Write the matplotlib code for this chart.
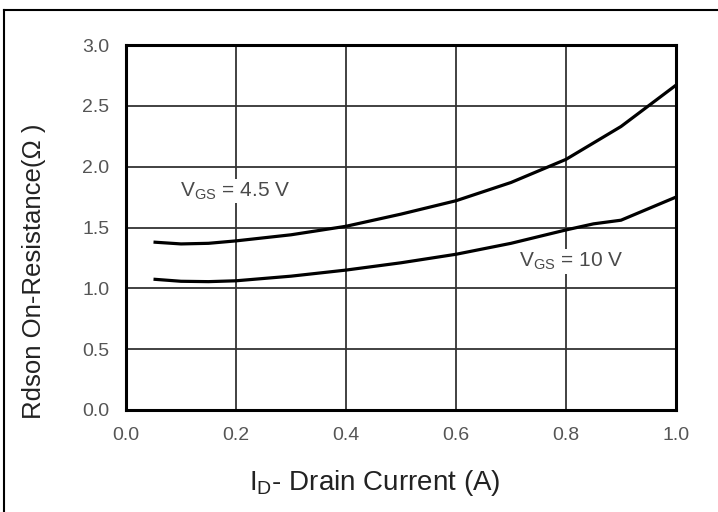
import matplotlib
matplotlib.use("Agg")
import matplotlib.pyplot as plt
from matplotlib.lines import Line2D
import numpy as np

plt.rcParams['font.family'] = ['Liberation Sans', 'DejaVu Sans']

# Data
current_a = [0.05, 0.10, 0.15, 0.20, 0.30, 0.40, 0.50, 0.60, 0.70, 0.80, 0.90, 1.00]
rdson_vgs45 = [1.38, 1.365, 1.37, 1.39, 1.44, 1.51, 1.61, 1.72, 1.87, 2.06, 2.33, 2.67]

current_b = [0.05, 0.10, 0.15, 0.20, 0.30, 0.40, 0.50, 0.60, 0.70, 0.80, 0.85, 0.90, 1.00]
rdson_vgs10 = [1.075, 1.058, 1.055, 1.062, 1.10, 1.15, 1.21, 1.28, 1.37, 1.48, 1.53, 1.56, 1.75]

x_ticks = [0.0, 0.2, 0.4, 0.6, 0.8, 1.0]
y_ticks = [0.0, 0.5, 1.0, 1.5, 2.0, 2.5, 3.0]

fig = plt.figure(figsize=(7.18, 5.12), dpi=100)
ax = fig.add_axes([126/718, 1-410/512, 550/718, 365/512])

ax.plot(current_a, rdson_vgs45, color='black', lw=2.3, solid_capstyle='butt')
ax.plot(current_b, rdson_vgs10, color='black', lw=2.3, solid_capstyle='butt')

ax.set_xlim(0, 1.0)
ax.set_ylim(0, 3.0)
ax.set_xticks(x_ticks)
ax.set_yticks(y_ticks)
ax.set_xticklabels([f"{v:.1f}" for v in x_ticks])
ax.set_yticklabels([f"{v:.1f}" for v in y_ticks])
ax.grid(True, color='#333333', lw=1.3)
ax.set_axisbelow(True)
ax.tick_params(length=0, labelsize=14, labelcolor='#555555')
ax.tick_params(axis='x', pad=12)
ax.tick_params(axis='y', pad=12)
for s in ax.spines.values():
    s.set_linewidth(2.2)
    s.set_color('black')

ax.text(0.098, 1.80, r"V$_{\mathregular{GS}}$ = 4.5 V", fontsize=15, color='#4a4a4a',
        va='center', ha='left', bbox=dict(facecolor='white', edgecolor='none', pad=1))
ax.text(0.715, 1.22, r"V$_{\mathregular{GS}}$ = 10 V", fontsize=15, color='#4a4a4a',
        va='center', ha='left', bbox=dict(facecolor='white', edgecolor='none', pad=1))

ax.set_xlabel(r"I$_{\mathregular{D}}$- Drain Current (A)", fontsize=20, color='#222222')
ax.xaxis.set_label_coords(0.453, -0.16)
ax.set_ylabel("Rdson On-Resistance(Ω )", fontsize=18.5, color='#222222')
ax.yaxis.set_label_coords(-0.145, 0.38)

# outer frame (left and top edges visible)
fig.add_artist(Line2D([4/718, 4/718], [0, 1-10/512], transform=fig.transFigure, color='black', lw=1.5))
fig.add_artist(Line2D([4/718, 1], [1-10/512, 1-10/512], transform=fig.transFigure, color='black', lw=1.5))

fig.savefig("out.png", dpi=100)
